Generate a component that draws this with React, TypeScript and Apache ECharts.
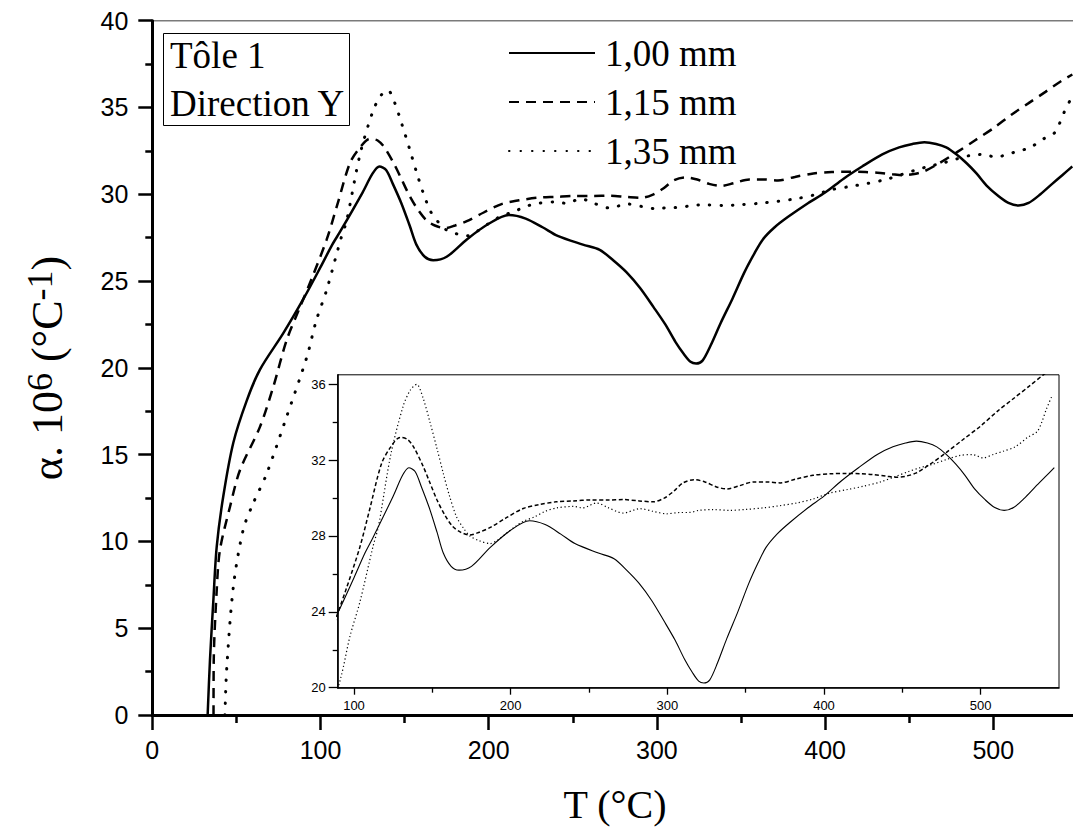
import React, { useEffect, useRef } from "react";
import * as echarts from "echarts";

const SERIES_NAMES = ["1,00 mm", "1,15 mm", "1,35 mm"];

// 1,00 mm (solid)
const T_100 = [32.9, 34.3, 36.3, 38.3, 42.2, 48.2, 56.1, 64, 77.9, 90, 100, 107, 112, 125, 131, 135, 139, 143, 148, 153, 157, 162, 167, 175, 187, 200, 212, 222, 232, 241, 256, 266, 274, 282, 290, 298, 305, 311, 316, 320, 323.3, 327, 332, 338, 345, 352, 358, 363, 370, 378, 390, 400, 411, 422, 434, 444, 452, 459, 466, 472, 478, 484, 490, 496, 503, 509, 515, 521, 528, 535, 541, 547];
const A_100 = [0, 3.2, 6.6, 9.7, 12.6, 15.7, 18.1, 19.9, 22.0, 24.0, 25.8, 27.1, 27.9, 30.1, 31.2, 31.6, 31.4, 30.6, 29.5, 28.2, 27.1, 26.4, 26.2, 26.4, 27.4, 28.3, 28.8, 28.6, 28.1, 27.6, 27.1, 26.8, 26.2, 25.5, 24.6, 23.5, 22.5, 21.5, 20.8, 20.35, 20.25, 20.4, 21.3, 22.6, 24.0, 25.5, 26.6, 27.4, 28.1, 28.7, 29.5, 30.1, 30.9, 31.6, 32.3, 32.7, 32.9, 33.0, 32.9, 32.7, 32.3, 31.8, 31.2, 30.5, 29.9, 29.5, 29.35, 29.5, 30.0, 30.6, 31.1, 31.6];

// 1,15 mm (dashed)
const T_115 = [36.4, 36.5, 38.3, 40.2, 46.2, 52.1, 64, 71.9, 79.9, 87.8, 95, 103.7, 110, 117.5, 123.5, 129.4, 134, 138, 144, 148, 153, 158, 163, 168, 174, 180, 187, 197, 208, 218, 229, 240, 251, 262, 272, 282, 291, 298, 304, 310, 317, 324, 331, 338, 346, 355, 364, 372, 382, 393, 404, 414, 424, 431, 440, 446, 452, 459, 468, 478, 489, 500, 511, 521, 531, 540, 547];
const A_115 = [0, 3.0, 7.2, 9.5, 12.0, 14.1, 16.6, 18.9, 21.6, 23.5, 25.2, 27.4, 29.4, 31.8, 32.7, 33.2, 33.1, 32.7, 31.7, 30.9, 29.9, 29.1, 28.5, 28.2, 28.05, 28.2, 28.45, 28.95, 29.45, 29.65, 29.8, 29.85, 29.9, 29.9, 29.92, 29.85, 29.8, 30.0, 30.35, 30.8, 30.97, 30.85, 30.6, 30.48, 30.65, 30.85, 30.85, 30.8, 31.0, 31.2, 31.28, 31.3, 31.28, 31.24, 31.15, 31.1, 31.15, 31.33, 31.8, 32.4, 33.1, 33.8, 34.6, 35.25, 35.9, 36.5, 36.9];

// 1,35 mm (dotted)
const T_135 = [43.2, 44.2, 48.2, 54.1, 60, 68, 79.9, 91.8, 97.4, 103.7, 112.3, 115.6, 123.5, 131.4, 136, 140, 144, 148.5, 153, 157, 161, 165.5, 170, 174, 180, 186.8, 192, 197.4, 203, 208, 215, 222, 229.4, 240, 246, 254.9, 262, 271.9, 282.5, 291, 299.5, 308, 314, 320, 329, 340, 350, 361, 372, 382.5, 393, 404, 415, 425, 436, 446, 454, 461, 470, 478, 487, 495, 501.6, 508, 514.4, 522, 530, 536, 539, 542, 545.6];
const A_135 = [0, 2.6, 7.4, 10.7, 12.2, 13.9, 17.2, 20.6, 22.7, 24.5, 27.5, 28.5, 32.3, 34.85, 35.7, 36.0, 35.3, 34.0, 32.6, 31.3, 30.1, 29.0, 28.4, 28.0, 27.75, 27.6, 27.8, 28.15, 28.5, 28.77, 29.0, 29.3, 29.48, 29.56, 29.48, 29.74, 29.5, 29.21, 29.44, 29.3, 29.17, 29.24, 29.24, 29.35, 29.39, 29.35, 29.4, 29.48, 29.6, 29.74, 29.95, 30.27, 30.45, 30.62, 30.85, 31.15, 31.4, 31.59, 31.8, 32.03, 32.25, 32.29, 32.12, 32.3, 32.47, 32.7, 33.2, 33.5, 34.0, 34.7, 35.4];

const MAIN_X_LABELS = [0, 100, 200, 300, 400, 500];
const INSET_X_MAJOR = [100, 200, 300, 400, 500];
const INSET_X_MINOR = [150, 250, 350, 450];
const INSET_Y_MAJOR = [20, 24, 28, 32, 36];
const INSET_Y_MINOR = [22, 26, 30, 34];

const zip = (t: number[], a: number[]) => t.map((x, i) => [x, a[i]]);

const SANS = "'Liberation Sans', Arial, sans-serif";
const SERIF = "'Liberation Serif', 'Times New Roman', serif";

// canvas wider than the 1073 px view so the main axis (0–600) runs past the right edge
const CANVAS_W = 1162;
const CANVAS_H = 828;

export default function App() {
  const ref = useRef<HTMLDivElement>(null);

  useEffect(() => {
    const chart = echarts.init(ref.current!, null, { renderer: "svg" });
    const datasets = [zip(T_100, A_100), zip(T_115, A_115), zip(T_135, A_135)];
    const mainStyles: any[] = [
      { color: "#000", width: 2.5, type: "solid" },
      { color: "#000", width: 2.5, type: [10, 7] },
      { color: "#000", width: 3, type: [0.5, 11], cap: "round" },
    ];
    const insetStyles: any[] = [
      { color: "#000", width: 1.1, type: "solid" },
      { color: "#000", width: 1.5, type: [4, 2.5] },
      { color: "#000", width: 1.2, type: [1.2, 2.6] },
    ];
    const series: any[] = [];
    datasets.forEach((d, i) => {
      series.push({
        type: "line", name: SERIES_NAMES[i], data: d, xAxisIndex: 0, yAxisIndex: 0,
        symbol: "none", showSymbol: false, smooth: 0.3, silent: true,
        lineStyle: mainStyles[i], itemStyle: { color: "#000" },
      });
    });
    datasets.forEach((d, i) => {
      series.push({
        type: "line", name: SERIES_NAMES[i], data: d, xAxisIndex: 1, yAxisIndex: 1,
        symbol: "none", showSymbol: false, smooth: 0.3, silent: true,
        lineStyle: insetStyles[i], itemStyle: { color: "#000" },
      });
    });

    const insetLabel = { fontSize: 13, fontFamily: SANS, color: "#000" };

    const option: any = {
      animation: false,
      backgroundColor: "#fff",
      grid: [
        { left: 152.3, top: 20.7, right: CANVAS_W - 152.3 - 1009.2, bottom: 113 },
        { left: 337.7, top: 374.8, right: CANVAS_W - 1059, bottom: 140.3, show: true, borderColor: "#000", borderWidth: 1, backgroundColor: "#fff" },
      ],
      xAxis: [
        {
          gridIndex: 0, type: "value", min: 0, max: 600, interval: 100,
          axisLine: { show: true, onZero: false, lineStyle: { color: "#000", width: 3 } },
          axisTick: { show: true, length: 15, lineStyle: { color: "#000", width: 2.5 } },
          minorTick: { show: true, splitNumber: 2, length: 8, lineStyle: { color: "#000", width: 2.5 } },
          axisLabel: { fontSize: 25, fontFamily: SANS, color: "#000", margin: 22, customValues: MAIN_X_LABELS, showMaxLabel: true },
          splitLine: { show: false }, minorSplitLine: { show: false },
        },
        {
          gridIndex: 1, type: "value", min: 89.6, max: 550, position: "bottom",
          axisLine: { show: true, onZero: false, lineStyle: { color: "#000", width: 1.6 } },
          axisTick: { show: true, length: 7, customValues: INSET_X_MAJOR, lineStyle: { color: "#000", width: 1.3 } },
          axisLabel: { ...insetLabel, margin: 11, customValues: INSET_X_MAJOR },
          splitLine: { show: false },
        },
        {
          gridIndex: 1, type: "value", min: 89.6, max: 550, position: "bottom", offset: 0,
          axisLine: { show: false, onZero: false },
          axisTick: { show: true, length: 5, customValues: INSET_X_MINOR, lineStyle: { color: "#000", width: 1.3 } },
          axisLabel: { show: false },
          splitLine: { show: false },
        },
      ],
      yAxis: [
        {
          gridIndex: 0, type: "value", min: 0, max: 40, interval: 5,
          axisLine: { show: true, onZero: false, lineStyle: { color: "#000", width: 3 } },
          axisTick: { show: true, length: 14, lineStyle: { color: "#000", width: 2.5 } },
          minorTick: { show: true, splitNumber: 2, length: 7, lineStyle: { color: "#000", width: 2.5 } },
          axisLabel: { fontSize: 25, fontFamily: SANS, color: "#000", margin: 24 },
          splitLine: { show: false }, minorSplitLine: { show: false },
        },
        {
          gridIndex: 1, type: "value", min: 20, max: 36.5, position: "left",
          axisLine: { show: true, onZero: false, lineStyle: { color: "#000", width: 1.6 } },
          axisTick: { show: true, length: 9, customValues: INSET_Y_MAJOR, lineStyle: { color: "#000", width: 1.3 } },
          axisLabel: { ...insetLabel, margin: 12, customValues: INSET_Y_MAJOR },
          splitLine: { show: false },
        },
        {
          gridIndex: 1, type: "value", min: 20, max: 36.5, position: "left", offset: 0,
          axisLine: { show: false, onZero: false },
          axisTick: { show: true, length: 5, customValues: INSET_Y_MINOR, lineStyle: { color: "#000", width: 1.3 } },
          axisLabel: { show: false },
          splitLine: { show: false },
        },
      ],
      legend: {
        data: SERIES_NAMES,
        orient: "vertical",
        left: 508, top: 33, padding: 0,
        itemWidth: 86, itemHeight: 14, itemGap: 9,
        selectedMode: false,
        itemStyle: { opacity: 0, color: "transparent", borderColor: "transparent", borderWidth: 0 },
        textStyle: { fontFamily: SERIF, fontSize: 37, color: "#000", lineHeight: 40, padding: [0, 0, 0, 5] },
      },
      graphic: [
        { type: "line", shape: { x1: 152.5, y1: 20.7, x2: CANVAS_W, y2: 20.7 }, style: { stroke: "#7a7a7a", lineWidth: 1.5 } },
        { type: "rect", shape: { x: 163.5, y: 33.5, width: 186, height: 92 }, style: { fill: "#fff", stroke: "#000", lineWidth: 1 } },
        { type: "text", x: 170, y: 55.8, style: { text: "Tôle 1", font: `37px ${SERIF}`, fill: "#000", align: "left", verticalAlign: "middle" } },
        { type: "text", x: 170, y: 103.5, style: { text: "Direction Y", font: `37px ${SERIF}`, fill: "#000", align: "left", verticalAlign: "middle" } },
        { type: "text", x: 615, y: 804.4, style: { text: "T (°C)", font: `40px ${SERIF}`, fill: "#000", align: "center", verticalAlign: "middle" } },
        {
          type: "text", x: 47, y: 368, rotation: Math.PI / 2,
          style: {
            text: "{m|α. 10}{s|6}{m| (°C}{s|-1}{m|)}",
            align: "center", verticalAlign: "middle", fill: "#000",
            rich: {
              m: { fontFamily: SERIF, fontSize: 44, lineHeight: 50, fill: "#000", verticalAlign: "middle" },
              s: { fontFamily: SERIF, fontSize: 36, lineHeight: 10, fill: "#000", verticalAlign: "top" },
            },
          },
        },
      ],
      series,
    };
    chart.setOption(option);
    return () => chart.dispose();
  }, []);

  return (
    <div style={{ position: "fixed", left: 0, top: 0, width: 1073, height: CANVAS_H, overflow: "hidden", background: "#fff" }}>
      <div ref={ref} style={{ width: CANVAS_W, height: CANVAS_H }} />
    </div>
  );
}
